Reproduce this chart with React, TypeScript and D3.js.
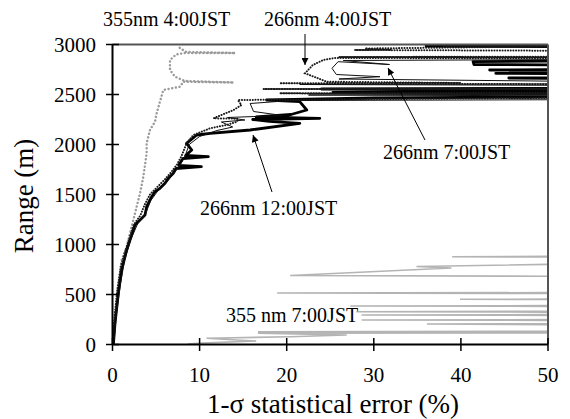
import React, { useEffect, useRef } from 'react';
import * as d3 from 'd3';

// every point is [error %, range m]
const xTicks = [0, 10, 20, 30, 40, 50];
const yTicks = [0, 500, 1000, 1500, 2000, 2500, 3000];

const s355_0700: [number, number][] = [
  [8.6, 5], [10.2, 14], [16.5, 35], [14.2, 45], [10.8, 62], [20.4, 78], [26.9, 95], [16.7, 112],
  [60, 118], [60, 124], [16.7, 128], [60, 133], [60, 195], [36.1, 205], [60, 210], [60, 240],
  [28.6, 245], [60, 250], [60, 290], [28.6, 295], [60, 300], [60, 322], [28, 328], [60, 334],
  [60, 380], [27.3, 385], [60, 390], [60, 448], [39.9, 452], [60, 456], [60, 508], [18.9, 515],
  [60, 520], [60, 680], [20.4, 690], [38.9, 765], [34.9, 780], [60, 815], [60, 872], [39, 878], [60, 884],
];

const s355_0400: [number, number][] = [
  [0, 0], [0.35, 300], [0.7, 600], [1.05, 845], [1.63, 978], [2.0, 1112], [2.39, 1245], [2.77, 1378],
  [3.16, 1512], [3.54, 1678], [3.92, 1912], [3.92, 2012], [4.3, 2145], [4.88, 2228], [5.07, 2312],
  [5.45, 2428], [5.83, 2545], [7.75, 2578], [8.13, 2628], [13.9, 2620], [8.3, 2635], [7.18, 2678],
  [6.6, 2745], [6.6, 2845], [7.3, 2900], [8.3, 2915], [14.1, 2915], [8.5, 2925], [7.75, 2962], [7.5, 2995],
];

const s266_1200: [number, number][] = [
  [0.1, 0], [0.29, 215], [0.67, 512], [1.05, 745], [1.63, 945], [2.2, 1095], [2.58, 1195], [2.96, 1228],
  [3.73, 1295], [3.92, 1378], [4.5, 1478], [4.88, 1528], [5.45, 1562], [6.03, 1612], [6.41, 1662],
  [6.98, 1712], [7.3, 1760], [10.2, 1778], [7.6, 1790], [7.75, 1815], [8.1, 1860], [11.0, 1878],
  [8.4, 1890], [9.1, 1945], [8.5, 2012], [9.67, 2095], [11.2, 2112], [15.8, 2145], [21.5, 2212],
  [18, 2232], [16.1, 2250], [23.8, 2262], [16.5, 2275], [20.5, 2300], [22.3, 2345], [21.5, 2428],
  [17.7, 2445], [30, 2465], [60, 2480], [60, 2505], [25.3, 2520], [60, 2535], [60, 2545], [24, 2555],
  [60, 2565], [60, 2650], [45.5, 2665], [60, 2672], [60, 2705], [44, 2712], [60, 2725], [60, 2740],
  [43.3, 2745], [60, 2752], [60, 2790], [41.5, 2800], [41.4, 2828], [60, 2840], [60, 2975], [36, 2985], [60, 2992],
];

const s266_0700: [number, number][] = [
  [0.15, 0], [0.45, 300], [0.9, 600], [1.4, 850], [2.1, 1050], [2.9, 1210], [3.8, 1310], [4.4, 1440],
  [5.4, 1560], [6.3, 1630], [7.1, 1720], [7.8, 1800], [8.4, 1900], [8.8, 2000], [10.0, 2080], [12.0, 2140],
  [13.8, 2175], [12.5, 2225], [15.2, 2245], [13.2, 2270], [19.5, 2290], [16.2, 2330], [15.8, 2410],
  [20.5, 2440], [60, 2450], [60, 2485], [22.5, 2495], [60, 2505], [60, 2590], [21.5, 2600], [60, 2608],
  [60, 2625], [26, 2655], [30.7, 2678], [25.7, 2700], [25.2, 2762], [25.9, 2828], [31.8, 2800],
  [26.5, 2840], [60, 2852], [60, 2970], [38, 2978], [60, 2985],
];

const s266_0400: [number, number][] = [
  [0, 0], [0.2, 250], [0.55, 550], [0.95, 780], [1.45, 930], [2.0, 1080], [2.45, 1200], [3.2, 1290],
  [3.7, 1400], [4.3, 1500], [5.2, 1580], [6.0, 1650], [6.8, 1730], [7.4, 1800], [7.9, 1880], [8.13, 1928],
  [8.5, 2012], [9.28, 2095], [11.2, 2162], [13.1, 2195], [14.3, 2228], [14.4, 2258], [11.6, 2262],
  [13.9, 2345], [14.8, 2395], [14.4, 2445], [22, 2450], [60, 2470], [60, 2500], [19.2, 2512], [60, 2520],
  [60, 2550], [17.3, 2555], [60, 2562], [60, 2600], [19.2, 2612], [40, 2615], [24.6, 2628], [22.1, 2712],
  [23, 2795], [24.2, 2845], [25.5, 2865], [60, 2860], [60, 2872], [26, 2875], [60, 2880], [60, 2935],
  [27.8, 2945], [31.9, 2948], [29, 2960], [60, 2990],
];

export default function App() {
  const svgRef = useRef<SVGSVGElement>(null);

  useEffect(() => {
    const svg = d3.select(svgRef.current);
    svg.selectAll('*').remove();

    const x = d3.scaleLinear().domain([0, 50]).range([112.5, 548]);
    const y = d3.scaleLinear().domain([0, 3000]).range([344.5, 44.5]);
    const font = '"Liberation Serif", "Times New Roman", serif';

    const defs = svg.append('defs');
    defs.append('clipPath').attr('id', 'plot-clip')
      .append('rect')
      .attr('x', x(0)).attr('y', y(3000))
      .attr('width', x(50) - x(0)).attr('height', y(0) - y(3000));
    defs.append('marker')
      .attr('id', 'arrow')
      .attr('viewBox', '0 0 10 10')
      .attr('refX', 10).attr('refY', 5)
      .attr('markerWidth', 8).attr('markerHeight', 7)
      .attr('markerUnits', 'userSpaceOnUse')
      .attr('orient', 'auto')
      .append('path').attr('d', 'M0,0 L10,5 L0,10 z').attr('fill', '#000');

    const line = d3.line<[number, number]>()
      .x(d => x(d[0]))
      .y(d => y(d[1]));

    const plot = svg.append('g').attr('clip-path', 'url(#plot-clip)');

    // 355 nm 7:00 - grey solid
    plot.append('path').datum(s355_0700)
      .attr('fill', 'none').attr('stroke', '#b4b4b4').attr('stroke-width', 1.6)
      .attr('d', line);

    // 355 nm 4:00 - grey dots
    plot.append('path').datum(s355_0400)
      .attr('fill', 'none').attr('stroke', '#9a9a9a').attr('stroke-width', 2.4)
      .attr('stroke-linecap', 'round').attr('stroke-dasharray', '0.1,3.6')
      .attr('d', line);

    // 266 nm 12:00 - thick black
    plot.append('path').datum(s266_1200)
      .attr('fill', 'none').attr('stroke', '#000').attr('stroke-width', 2.8)
      .attr('stroke-linejoin', 'round')
      .attr('d', line);

    // 266 nm 7:00 - thin black
    plot.append('path').datum(s266_0700)
      .attr('fill', 'none').attr('stroke', '#111').attr('stroke-width', 1)
      .attr('d', line);

    // 266 nm 4:00 - dark dots
    plot.append('path').datum(s266_0400)
      .attr('fill', 'none').attr('stroke', '#1a1a1a').attr('stroke-width', 2)
      .attr('stroke-linecap', 'round').attr('stroke-dasharray', '0.1,2.6')
      .attr('d', line);

    // frame
    svg.append('line')
      .attr('x1', x(0)).attr('x2', x(50)).attr('y1', y(3000)).attr('y2', y(3000))
      .attr('stroke', '#555').attr('stroke-width', 2);
    svg.append('line')
      .attr('x1', x(50)).attr('x2', x(50)).attr('y1', y(3000)).attr('y2', y(0))
      .attr('stroke', '#555').attr('stroke-width', 2);

    // axes
    svg.append('line')
      .attr('x1', x(0)).attr('x2', x(0)).attr('y1', y(3000)).attr('y2', y(0))
      .attr('stroke', '#000').attr('stroke-width', 2);
    svg.append('line')
      .attr('x1', x(0)).attr('x2', x(50)).attr('y1', y(0)).attr('y2', y(0))
      .attr('stroke', '#000').attr('stroke-width', 2);

    svg.append('g').selectAll('line').data(yTicks).join('line')
      .attr('x1', x(0) - 6.5).attr('x2', x(0) + 6.5)
      .attr('y1', d => y(d)).attr('y2', d => y(d))
      .attr('stroke', '#000').attr('stroke-width', 1.5);
    svg.append('g').selectAll('line').data(xTicks).join('line')
      .attr('x1', d => x(d)).attr('x2', d => x(d))
      .attr('y1', y(0) - 6.5).attr('y2', y(0) + 6.5)
      .attr('stroke', '#000').attr('stroke-width', 1.5);

    svg.append('g').selectAll('text').data(yTicks).join('text')
      .attr('x', 96).attr('y', d => y(d)).attr('dy', '0.34em')
      .attr('text-anchor', 'end')
      .attr('font-family', font).attr('font-size', 21)
      .text(d => String(d));
    svg.append('g').selectAll('text').data(xTicks).join('text')
      .attr('x', d => x(d)).attr('y', 382)
      .attr('text-anchor', 'middle')
      .attr('font-family', font).attr('font-size', 21)
      .text(d => String(d));

    svg.append('text')
      .attr('transform', 'translate(33,196) rotate(-90)')
      .attr('text-anchor', 'middle')
      .attr('font-family', font).attr('font-size', 27)
      .text('Range (m)');
    svg.append('text')
      .attr('x', 333).attr('y', 413)
      .attr('text-anchor', 'middle')
      .attr('font-family', font).attr('font-size', 27)
      .text('1-σ statistical error (%)');

    // annotations
    const notes = [
      { t: '355nm 4:00JST', x: 103, y: 26 },
      { t: '266nm 4:00JST', x: 264, y: 26 },
      { t: '266nm 7:00JST', x: 383, y: 159 },
      { t: '266nm 12:00JST', x: 200, y: 215 },
      { t: '355 nm 7:00JST', x: 226, y: 322 },
    ];
    svg.append('g').selectAll('text').data(notes).join('text')
      .attr('x', d => d.x).attr('y', d => d.y)
      .attr('font-family', font).attr('font-size', 20)
      .text(d => d.t);

    const arrows = [
      { x1: 305, y1: 34, x2: 305, y2: 65 },
      { x1: 425, y1: 140, x2: 388, y2: 68 },
      { x1: 272, y1: 192, x2: 253, y2: 135 },
    ];
    svg.append('g').selectAll('line').data(arrows).join('line')
      .attr('x1', d => d.x1).attr('y1', d => d.y1)
      .attr('x2', d => d.x2).attr('y2', d => d.y2)
      .attr('stroke', '#000').attr('stroke-width', 1)
      .attr('marker-end', 'url(#arrow)');
  }, []);

  return (
    <svg
      ref={svgRef}
      width={570}
      height={419}
      style={{ position: 'absolute', left: 0, top: 0, background: '#fff' }}
    />
  );
}
